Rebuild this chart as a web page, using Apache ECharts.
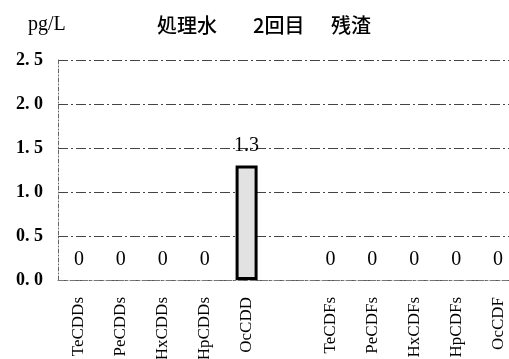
<!DOCTYPE html>
<html>
<head>
<meta charset="utf-8">
<script src="https://cdn.jsdelivr.net/npm/echarts@6/dist/echarts.min.js"></script>
<style>
  html, body { margin: 0; padding: 0; background: #fff; }
  #chart { width: 509px; height: 359px; }
</style>
</head>
<body>
<div id="chart"></div>
<script>
// Congener categories; the empty entry separates the dioxin and furan groups
var categories = ['TeCDDs', 'PeCDDs', 'HxCDDs', 'HpCDDs', 'OcCDD', '', 'TeCDFs', 'PeCDFs', 'HxCDFs', 'HpCDFs', 'OcCDF'];
// Concentrations in pg/L (null = no bar for the spacer slot)
var values = [0, 0, 0, 0, 1.3, null, 0, 0, 0, 0, 0];
// Y axis range and ticks
var yTicks = [0, 0.5, 1.0, 1.5, 2.0, 2.5];
var unitText = 'pg/L';
var titleParts = ['処理水', '2回目', '残渣'];

var serif = '"Liberation Serif", "DejaVu Serif", serif';
var cjk = '"Noto Sans CJK JP", "Noto Sans CJK SC", sans-serif';

var barData = values.map(function (v) {
  if (v === null) return '-';
  return {
    value: v,
    itemStyle: v > 0 ? { borderColor: '#000', borderWidth: 3, color: '#e2e2e2' } : { borderWidth: 0, color: 'rgba(0,0,0,0)' }
  };
});

var chart = echarts.init(document.getElementById('chart'), null, { renderer: 'canvas' });
chart.setOption({
  animation: false,
  backgroundColor: '#fff',
  grid: { left: 58, right: -10, top: 60, bottom: 79, containLabel: false, outerBoundsMode: 'none' },
  graphic: [
    { type: 'text', left: 28, top: 15, style: { text: unitText, font: '20px ' + serif, fill: '#000' } },
    { type: 'text', left: 157, top: 15, style: { text: titleParts[0], font: '500 20px ' + cjk, fill: '#000' } },
    { type: 'text', left: 253, top: 15, style: { text: titleParts[1], font: '500 20px ' + cjk, fill: '#000' } },
    { type: 'text', left: 331, top: 15, style: { text: titleParts[2], font: '500 20px ' + cjk, fill: '#000' } }
  ],
  xAxis: {
    type: 'category',
    data: categories,
    axisTick: { show: false },
    axisLine: { show: true, lineStyle: { color: '#777', type: [6, 2, 2, 2], width: 1 } },
    axisLabel: {
      rotate: 90,
      interval: 0,
      margin: 17,
      color: '#000',
      fontFamily: serif,
      fontSize: 17
    }
  },
  yAxis: {
    type: 'value',
    min: yTicks[0],
    max: yTicks[yTicks.length - 1],
    interval: yTicks[1] - yTicks[0],
    axisLine: { show: true, lineStyle: { color: '#666', type: [4, 2, 1, 2], width: 1 } },
    axisTick: { show: false },
    splitLine: { show: true, lineStyle: { color: '#444', type: [10, 3, 2, 3], width: 1 } },
    axisLabel: {
      margin: 15,
      color: '#000',
      fontFamily: serif,
      fontWeight: 'bold',
      fontSize: 18,
      formatter: function (v) { return v.toFixed(1).replace('.', '. '); }
    }
  },
  series: [{
    type: 'bar',
    data: barData,
    barWidth: 22,
    label: {
      show: true,
      position: 'top',
      distance: 10,
      color: '#000',
      fontFamily: serif,
      fontSize: 20,
      formatter: function (p) { return String(p.value); }
    }
  }]
});
</script>
</body>
</html>
